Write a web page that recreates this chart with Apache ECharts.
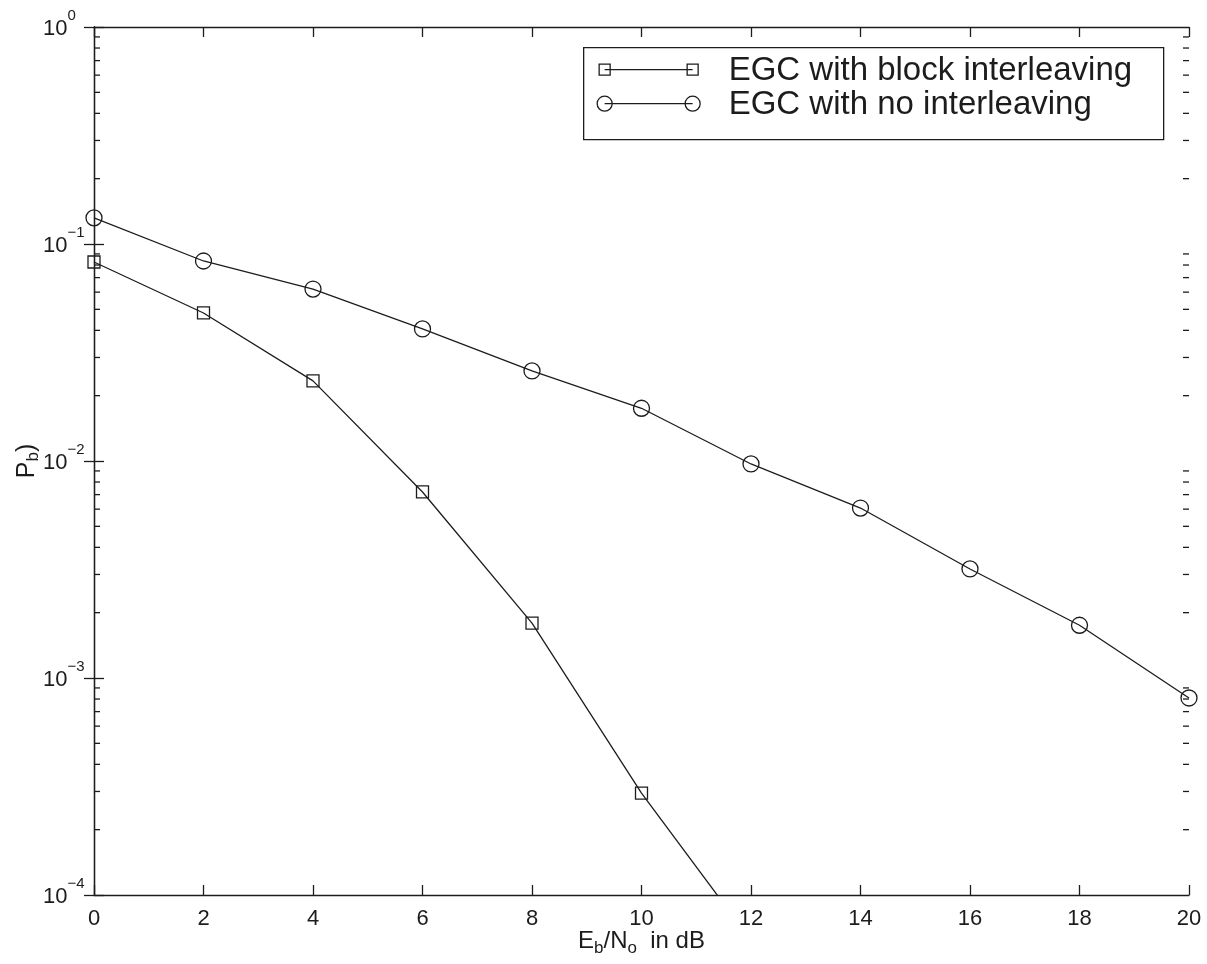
<!DOCTYPE html>
<html>
<head>
<meta charset="utf-8">
<script src="https://cdn.jsdelivr.net/npm/echarts@6/dist/echarts.min.js"></script>
<style>
  html, body { margin: 0; padding: 0; background: #ffffff; }
  #chart { width: 1207px; height: 964px; }
</style>
</head>
<body>
<div id="chart"></div>
<script>
// Eb/No values (dB) at which the bit error probability was evaluated
const ebNoDb = [0, 2, 4, 6, 8, 10, 12, 14, 16, 18, 20];

// Bit error probability, EGC with block interleaving (falls below 1e-4 after 10 dB)
const berBlockInterleaving = [0.0826, 0.0481, 0.0234, 0.00720, 0.00179, 0.000295, 0.0000617];

// Bit error probability, EGC with no interleaving
const berNoInterleaving = [0.132, 0.0835, 0.0620, 0.0406, 0.0260, 0.0175, 0.00969, 0.00607, 0.00318, 0.00175, 0.000809];

// Axis ranges
const xTickStep = 2;
const yDecades = [1e-4, 1e-3, 1e-2, 1e-1];
const minorMultipliers = [2, 3, 4, 5, 6, 7, 8, 9];

const legendLabels = ['EGC with block interleaving', 'EGC with no interleaving'];

const FONT = "'Liberation Sans', Arial, Helvetica, sans-serif";
const INK = '#1c1c1c';

const pairs = (xs, ys) => ys.map((y, i) => [xs[i], y]);

// minor tick positions of the logarithmic y axis (2..9 in every decade)
const minorTickValues = [];
yDecades.forEach(d => minorMultipliers.forEach(m => minorTickValues.push([0, d * m])));

const chart = echarts.init(document.getElementById('chart'), null, { renderer: 'canvas' });

// "10" with the exponent raised; labels are left-aligned so the bases line up
const supLabel = v => {
  const e = Math.round(Math.log10(v));
  return '{b|10}{e|' + (e < 0 ? '\u2212' + (-e) : e) + '}';
};

const commonX = {
  type: 'value', min: 0, max: 20, interval: xTickStep,
  splitLine: { show: false },
  axisLine: { onZero: false, lineStyle: { color: INK, width: 1.3 } },
  axisTick: { inside: true, length: 10, lineStyle: { color: INK, width: 1.3 } }
};
const commonY = {
  type: 'log', logBase: 10, min: 1e-4, max: 1,
  splitLine: { show: false },
  axisLine: { lineStyle: { color: INK, width: 1.3 } },
  axisTick: { inside: true, length: 10, lineStyle: { color: INK, width: 1.3 } }
};

const option = {
  backgroundColor: '#ffffff',
  animation: false,
  textStyle: { fontFamily: FONT },
  grid: { left: 94, right: 18, top: 27, bottom: 69, containLabel: false, outerBoundsMode: 'none' },
  xAxis: [
    Object.assign({}, commonX, {
      position: 'bottom',
      name: '{n|E}{s|b}{n|/N}{s|o}{n|  in dB}',
      nameLocation: 'middle',
      nameGap: 31,
      nameMoveOverlap: false,
      nameTextStyle: {
        color: INK, fontFamily: FONT,
        rich: {
          n: { fontSize: 24, color: INK, fontFamily: FONT },
          s: { fontSize: 17, color: INK, fontFamily: FONT, padding: [14, 0, 0, 0] }
        }
      },
      axisLabel: { color: INK, fontSize: 22, fontFamily: FONT, margin: 13 }
    }),
    Object.assign({}, commonX, {
      position: 'top',
      axisLabel: { show: false }
    })
  ],
  yAxis: [
    Object.assign({}, commonY, {
      position: 'left',
      name: '{n|P}{s|b}{n|)}',
      nameLocation: 'middle',
      nameRotate: 90,
      nameGap: 52,
      nameMoveOverlap: false,
      nameTextStyle: {
        color: INK, fontFamily: FONT,
        rich: {
          n: { fontSize: 25, color: INK, fontFamily: FONT },
          s: { fontSize: 17, color: INK, fontFamily: FONT, padding: [12, 0, 0, 0] }
        }
      },
      axisLabel: {
        margin: 51,
        align: 'left',
        formatter: supLabel,
        rich: {
          b: { fontSize: 22, color: INK, fontFamily: FONT, padding: [4, 0, 0, 0] },
          e: { fontSize: 15, color: INK, fontFamily: FONT, padding: [0, 0, 22, 0] }
        }
      }
    }),
    Object.assign({}, commonY, {
      position: 'right',
      axisLabel: { show: false }
    })
  ],
  series: [
    {
      name: legendLabels[0],
      type: 'line',
      xAxisIndex: 0, yAxisIndex: 0,
      data: pairs(ebNoDb, berBlockInterleaving),
      clip: true,
      symbol: 'rect',
      symbolSize: 12,
      lineStyle: { color: INK, width: 1.3 },
      itemStyle: { color: 'rgba(0,0,0,0)', borderColor: INK, borderWidth: 1.3 },
      emphasis: { disabled: true },
      z: 3
    },
    {
      name: legendLabels[1],
      type: 'line',
      xAxisIndex: 0, yAxisIndex: 0,
      data: pairs(ebNoDb, berNoInterleaving),
      clip: false,
      symbol: 'circle',
      symbolSize: 16,
      lineStyle: { color: INK, width: 1.3 },
      itemStyle: { color: 'rgba(0,0,0,0)', borderColor: INK, borderWidth: 1.3 },
      emphasis: { disabled: true },
      z: 3
    },
    {
      // minor ticks of the log axis, drawn inward on the left and right frame
      type: 'custom',
      xAxisIndex: 0, yAxisIndex: 0,
      data: minorTickValues,
      encode: { x: 0, y: 1 },
      silent: true,
      clip: false,
      renderItem: (params, api) => {
        const v = api.value(1);
        const left = api.coord([0, v]);
        const right = api.coord([20, v]);
        const style = { stroke: INK, lineWidth: 1.3 };
        return {
          type: 'group',
          children: [
            { type: 'line', shape: { x1: left[0], y1: left[1], x2: left[0] + 6, y2: left[1] }, style },
            { type: 'line', shape: { x1: right[0], y1: right[1], x2: right[0] - 6, y2: right[1] }, style }
          ]
        };
      },
      z: 2
    }
  ],
  graphic: [
    {
      type: 'group',
      left: 583, top: 47,
      z: 10,
      children: [
        { type: 'rect', shape: { x: 0, y: 0, width: 580, height: 92 },
          style: { fill: '#ffffff', stroke: INK, lineWidth: 1.3 } },
        // entry 1: squares joined by a line
        { type: 'line', shape: { x1: 21, y1: 22, x2: 109, y2: 22 }, style: { stroke: INK, lineWidth: 1.3 } },
        { type: 'rect', shape: { x: 15.5, y: 16.5, width: 11, height: 11 }, style: { fill: 'none', stroke: INK, lineWidth: 1.3 } },
        { type: 'rect', shape: { x: 103.5, y: 16.5, width: 11, height: 11 }, style: { fill: 'none', stroke: INK, lineWidth: 1.3 } },
        { type: 'text', x: 145, y: 23, style: { text: legendLabels[0], fill: INK, font: '33px ' + FONT, verticalAlign: 'middle' } },
        // entry 2: circles joined by a line
        { type: 'line', shape: { x1: 21, y1: 56, x2: 109, y2: 56 }, style: { stroke: INK, lineWidth: 1.3 } },
        { type: 'circle', shape: { cx: 21, cy: 56, r: 7.5 }, style: { fill: 'none', stroke: INK, lineWidth: 1.3 } },
        { type: 'circle', shape: { cx: 109, cy: 56, r: 7.5 }, style: { fill: 'none', stroke: INK, lineWidth: 1.3 } },
        { type: 'text', x: 145, y: 57, style: { text: legendLabels[1], fill: INK, font: '33px ' + FONT, verticalAlign: 'middle' } }
      ]
    }
  ]
};

chart.setOption(option);
</script>
</body>
</html>
